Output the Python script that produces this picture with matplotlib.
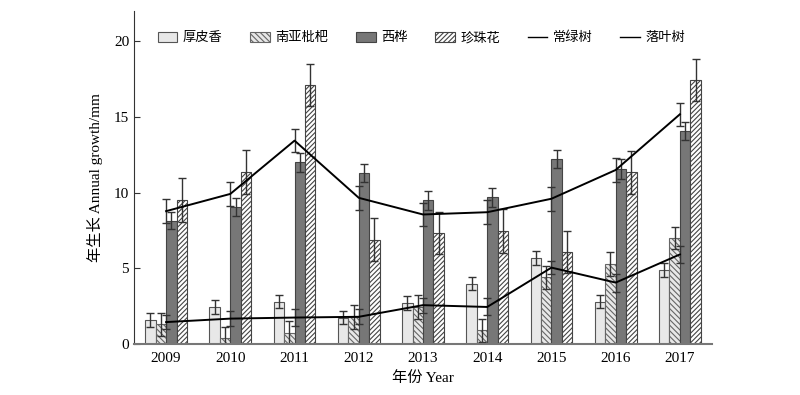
import numpy as np
import matplotlib.pyplot as plt
from matplotlib.lines import Line2D

plt.rcParams['font.family'] = ['Liberation Serif', 'Noto Sans CJK SC']
plt.rcParams['hatch.linewidth'] = 0.8

# 数据
years = ['2009', '2010', '2011', '2012', '2013', '2014', '2015', '2016', '2017']
houpixiang = [1.6, 2.45, 2.8, 1.75, 2.7, 4.0, 5.7, 2.8, 4.9]
houpixiang_err = [0.45, 0.45, 0.45, 0.45, 0.45, 0.45, 0.45, 0.45, 0.45]
nanya = [1.3, 0.4, 0.7, 1.8, 2.45, 0.9, 4.4, 5.3, 7.0]
nanya_err = [0.75, 0.75, 0.8, 0.8, 0.8, 0.75, 0.75, 0.8, 0.75]
xihua = [8.15, 9.05, 12.0, 11.3, 9.5, 9.7, 12.25, 11.55, 14.05]
xihua_err = [0.58, 0.62, 0.64, 0.6, 0.62, 0.64, 0.6, 0.67, 0.6]
zhenzhu = [9.5, 11.35, 17.1, 6.9, 7.35, 7.45, 6.07, 11.35, 17.45]
zhenzhu_err = [1.45, 1.45, 1.4, 1.43, 1.4, 1.45, 1.4, 1.43, 1.4]
changlv = [8.78, 9.92, 13.44, 9.66, 8.56, 8.71, 9.6, 11.5, 15.18]
changlv_err = [0.78, 0.77, 0.77, 0.78, 0.78, 0.78, 0.78, 0.78, 0.77]
luoye = [1.45, 1.68, 1.75, 1.8, 2.57, 2.45, 5.05, 4.06, 5.92]
luoye_err = [0.44, 0.5, 0.55, 0.5, 0.5, 0.56, 0.44, 0.6, 0.55]

fig = plt.figure(figsize=(8, 3.95), dpi=100)
ax = fig.add_axes([0.1675, 0.129, 0.7225, 0.843])

x = np.arange(len(years))
w = 0.163
ekw = dict(ecolor='#333333', elinewidth=1, capsize=3, capthick=1)

ax.bar(x - 1.5 * w, houpixiang, w, yerr=houpixiang_err, color='#e8e8e8',
       edgecolor='#555555', linewidth=0.8, error_kw=ekw, label='厚皮香')
ax.bar(x - 0.5 * w, nanya, w, yerr=nanya_err, color='#e8e8e8', hatch='\\\\\\\\\\\\',
       edgecolor='#666666', linewidth=0.8, error_kw=ekw, label='南亚枇杷')
ax.bar(x + 0.5 * w, xihua, w, yerr=xihua_err, color='#777777',
       edgecolor='#444444', linewidth=0.8, error_kw=ekw, label='西桦')
ax.bar(x + 1.5 * w, zhenzhu, w, yerr=zhenzhu_err, color='white', hatch='///////',
       edgecolor='#444444', linewidth=0.8, error_kw=ekw, label='珍珠花')

ax.errorbar(x, changlv, yerr=changlv_err, color='black', lw=1.4, **ekw)
ax.errorbar(x, luoye, yerr=luoye_err, color='black', lw=1.4, **ekw)

ax.set_xlim(-0.5, 8.5)
ax.set_ylim(0, 22)
ax.set_xticks(x)
ax.set_xticklabels(years, fontsize=11)
ax.set_yticks([0, 5, 10, 15, 20])
ax.tick_params(axis='y', direction='in', length=4, labelsize=11, color='#333333')
ax.tick_params(axis='x', length=0, pad=6)
ax.spines['top'].set_visible(False)
ax.spines['right'].set_visible(False)
ax.spines['left'].set_color('#333333')
ax.spines['bottom'].set_color('#777777')
ax.spines['bottom'].set_linewidth(1.5)

ax.set_xlabel('年份 Year', fontsize=11, labelpad=4)
ax.set_ylabel('年生长 Annual growth/mm', fontsize=11, labelpad=8)

handles, labels = ax.get_legend_handles_labels()
handles = [h.patches[0] if hasattr(h, 'patches') else h for h in handles]
handles += [Line2D([], [], color='black', lw=1), Line2D([], [], color='black', lw=1)]
labels += ['常绿树', '落叶树']
ax.legend(handles, labels, ncol=6, frameon=False, loc='center',
          bbox_to_anchor=(0.497, 0.919), fontsize=9.5, columnspacing=2.1,
          handlelength=1.5, handleheight=0.8, handletextpad=0.4)

fig.savefig('out.png', dpi=100)
